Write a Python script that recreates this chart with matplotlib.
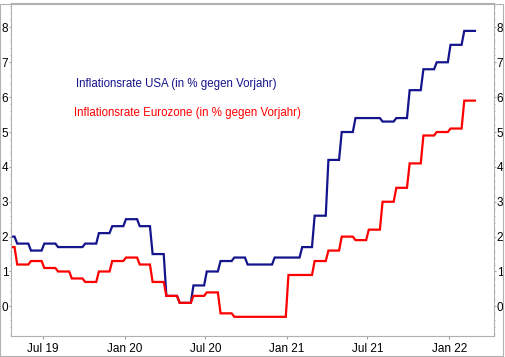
import datetime as dt

import matplotlib
matplotlib.use('Agg')
import matplotlib.dates as mdates
import numpy as np
from matplotlib import pyplot as plt
from matplotlib.patches import Rectangle
from matplotlib.ticker import MultipleLocator

# monthly values, Apr 2019 .. Feb 2022
start_year, start_month = 2019, 4
usa = [2.0, 1.8, 1.6, 1.8, 1.7, 1.7, 1.8, 2.1, 2.3,
       2.5, 2.3, 1.5, 0.3, 0.1, 0.6, 1.0, 1.3, 1.4, 1.2, 1.2, 1.4,
       1.4, 1.7, 2.6, 4.2, 5.0, 5.4, 5.4, 5.3, 5.4, 6.2, 6.8, 7.0,
       7.5, 7.9]
euro = [1.7, 1.2, 1.3, 1.1, 1.0, 0.8, 0.7, 1.0, 1.3,
        1.4, 1.2, 0.7, 0.3, 0.1, 0.3, 0.4, -0.2, -0.3, -0.3, -0.3, -0.3,
        0.9, 0.9, 1.3, 1.6, 2.0, 1.9, 2.2, 3.0, 3.4, 4.1, 4.9, 5.0,
        5.1, 5.9]
label_usa = 'Inflationsrate USA (in % gegen Vorjahr)'
label_euro = 'Inflationsrate Eurozone (in % gegen Vorjahr)'
xtick_dates = [dt.date(2019, 7, 1), dt.date(2020, 1, 1), dt.date(2020, 7, 1),
               dt.date(2021, 1, 1), dt.date(2021, 7, 1), dt.date(2022, 1, 1)]
xtick_labels = ['Jul 19', 'Jan 20', 'Jul 20', 'Jan 21', 'Jul 21', 'Jan 22']


def month_starts(n):
    out = []
    y, m = start_year, start_month
    for _ in range(n + 1):
        out.append(dt.date(y, m, 1))
        m += 1
        if m > 12:
            m, y = 1, y + 1
    return out


def stepped(values, ramp=3):
    """Flat monthly segments with a short ramp at each month boundary."""
    starts = month_starts(len(values))
    xs, ys = [], []
    for i, v in enumerate(values):
        a = starts[i] + dt.timedelta(days=ramp if i > 0 else 0)
        b = starts[i + 1] - dt.timedelta(days=ramp if i < len(values) - 1 else 1)
        xs += [a, b]
        ys += [v, v]
    return mdates.date2num(xs), np.array(ys)


plt.rcParams['font.family'] = ['Liberation Sans', 'DejaVu Sans']

fig = plt.figure(figsize=(5.06, 3.57), dpi=100)
ax = fig.add_axes([11 / 506, 1 - 336 / 357, 483 / 506, 333 / 357])

x, y = stepped(usa)
ax.plot(x, y, color='#14148c', lw=1.6, solid_joinstyle='miter')
x, y = stepped(euro)
ax.plot(x, y, color='#ff0000', lw=1.6, solid_joinstyle='miter')

ax.set_xlim(mdates.date2num(dt.date(2019, 4, 20)), mdates.date2num(dt.date(2022, 4, 12)))
ax.set_ylim(-0.85, 8.7)

ax.set_xticks(mdates.date2num(xtick_dates))
ax.set_xticklabels(xtick_labels)
ax.set_yticks(range(0, 9))
ax.yaxis.set_minor_locator(MultipleLocator(0.2))
ax.tick_params(axis='both', which='both', colors='#a0a0a0', labelcolor='black', labelsize=8.5)
ax.tick_params(axis='y', which='major', length=1.5, pad=0.5, left=True, right=True,
               labelleft=True, labelright=True)
ax.tick_params(axis='y', which='minor', length=1, left=True, right=True)
ax.tick_params(axis='x', which='major', length=2, pad=3)
for s in ax.spines.values():
    s.set_color('#b0b0b0')
    s.set_linewidth(0.8)

ax.text(0.1346, 0.757, label_usa, transform=ax.transAxes, color='#14148c',
        fontsize=8.3, va='center', ha='left')
ax.text(0.130, 0.670, label_euro, transform=ax.transAxes, color='#ff0000',
        fontsize=8.3, va='center', ha='left')

fig.add_artist(Rectangle((0.5 / 506, 1 - 355.5 / 357), 503 / 506, 352 / 357,
                         transform=fig.transFigure, fill=False, ec='#b0b0b0', lw=0.8))

fig.savefig('out.png', dpi=100)
